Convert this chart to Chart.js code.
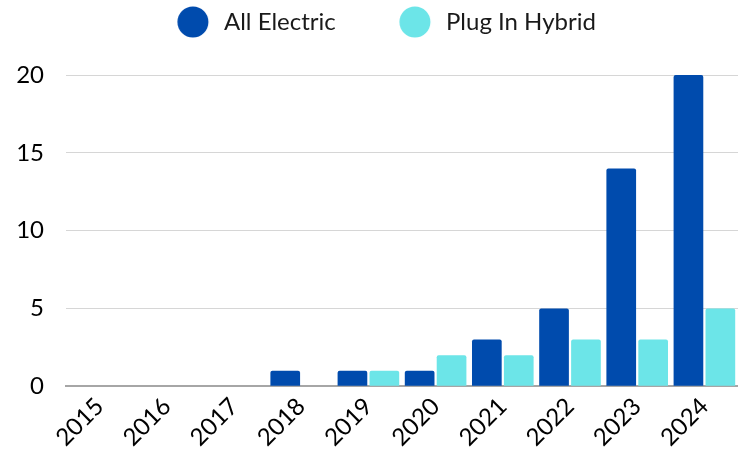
<!DOCTYPE html>
<html>
<head>
<meta charset="utf-8">
<script src="https://cdn.jsdelivr.net/npm/chart.js@4/dist/chart.umd.min.js"></script>
<style>
  html, body { margin: 0; padding: 0; background: #ffffff; }
  #wrap { width: 738px; height: 458px; position: relative; }
</style>
</head>
<body>
<div id="wrap"><canvas id="c"></canvas></div>
<script>
const years = ['2015', '2016', '2017', '2018', '2019', '2020', '2021', '2022', '2023', '2024'];
const allElectric = [0, 0, 0, 1, 1, 1, 3, 5, 14, 20];
const plugInHybrid = [0, 0, 0, 0, 1, 2, 2, 3, 3, 5];
const yTicks = [0, 5, 10, 15, 20];
const seriesNames = ['All Electric', 'Plug In Hybrid'];

const DARK = '#004BAD';
const LIGHT = '#6CE5E8';
const FONT_FAMILY = 'Lato';
const FS = 24;

// legend geometry (measured from the text so markers sit where the reference has them)
const mctx = document.createElement('canvas').getContext('2d');
mctx.font = FS + 'px ' + FONT_FAMILY;
const T1 = mctx.measureText(seriesNames[0]).width;
const T2 = mctx.measureText(seriesNames[1]).width;
const HALF = FS / 2, R = 15.5, D = 31, S1 = 224, C2 = 415;
const GAP = C2 - R - (S1 + T1);
const K = GAP + D + R - HALF;
let P = Math.max(2, 738 - (2 * K + 2 * HALF + T1 + T2) - 2 * S1 + 2 * K + 2 * HALF);
const PW = K - P;

function marker(color) {
  const cv = document.createElement('canvas');
  cv.width = Math.round(PW); cv.height = 32;
  const g = cv.getContext('2d');
  g.fillStyle = color;
  g.beginPath();
  g.arc(PW - (D - HALF), 16, R, 0, Math.PI * 2);
  g.fill();
  return cv;
}

const legendTop = 22 - P - HALF;
const legendGap = {
  id: 'legendGap',
  beforeInit(chart) {
    const orig = chart.legend.fit;
    chart.legend.fit = function () {
      orig.call(this);
      this.height = 75 - legendTop;
    };
  }
};

new Chart(document.getElementById('c'), {
  type: 'bar',
  data: {
    labels: years,
    datasets: [
      { label: seriesNames[0], data: allElectric, backgroundColor: DARK, pointStyle: marker(DARK),
        borderRadius: 2, borderSkipped: 'bottom', barPercentage: 0.93, categoryPercentage: 0.95 },
      { label: seriesNames[1], data: plugInHybrid, backgroundColor: LIGHT, pointStyle: marker(LIGHT),
        borderRadius: 2, borderSkipped: 'bottom', barPercentage: 0.93, categoryPercentage: 0.95 }
    ]
  },
  options: {
    responsive: true,
    maintainAspectRatio: false,
    animation: false,
    layout: { padding: { top: legendTop, left: 0, right: 0, bottom: 0 } },
    plugins: {
      tooltip: { enabled: false },
      legend: {
        position: 'top',
        align: 'center',
        labels: {
          usePointStyle: true,
          pointStyleWidth: PW,
          padding: P,
          color: '#1a1a1a',
          font: { family: FONT_FAMILY, size: FS }
        }
      }
    },
    scales: {
      x: {
        grid: { display: false, drawTicks: false },
        border: { display: true, color: '#a6a6a6', width: 2 },
        afterFit(scale) { scale.paddingLeft = 0; scale.paddingRight = 0; },
        ticks: {
          color: '#000000',
          font: { family: FONT_FAMILY, size: FS },
          maxRotation: 45, minRotation: 45,
          padding: 6,
          autoSkip: false
        }
      },
      y: {
        min: 0, max: 20,
        afterBuildTicks(scale) { scale.ticks = yTicks.map(v => ({ value: v })); },
        afterFit(scale) { scale.width = 66; },
        grid: { color: '#d6d6d6', lineWidth: 1, drawTicks: false },
        border: { display: false },
        ticks: {
          color: '#000000',
          font: { family: FONT_FAMILY, size: FS },
          padding: 22
        }
      }
    }
  },
  plugins: [legendGap]
});
</script>
</body>
</html>
